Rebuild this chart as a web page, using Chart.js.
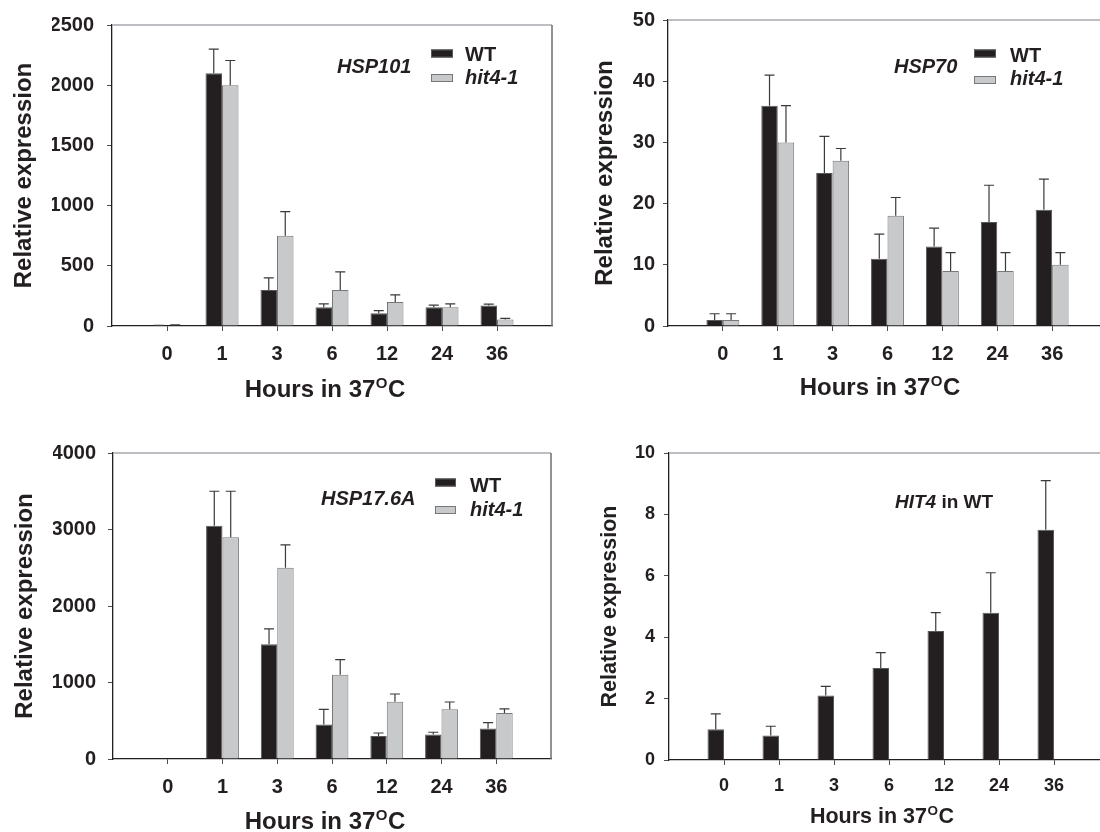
<!DOCTYPE html>
<html>
<head>
<meta charset="utf-8">
<script src="https://cdn.jsdelivr.net/npm/chart.js@4.4.1/dist/chart.umd.min.js"></script>
<style>
  html, body { margin: 0; padding: 0; background: #fff; overflow: hidden; }
  #wrap { position: relative; width: 1100px; height: 832px; overflow: hidden; }
  canvas { position: absolute; left: 0; top: 0; }
</style>
</head>
<body>
<div id="wrap">
  <canvas id="c1" width="1120" height="832"></canvas>
  <canvas id="c2" width="1120" height="832"></canvas>
  <canvas id="c3" width="1120" height="832"></canvas>
  <canvas id="c4" width="1120" height="832"></canvas>
</div>
<script>
// hours at 37 C
const hours = ['0', '1', '3', '6', '12', '24', '36'];

// HSP101
const hsp101WT = [2, 2100, 300, 155, 105, 155, 170];
const hsp101WTsd = [3, 200, 100, 28, 22, 18, 12];
const hsp101Hit = [5, 2000, 750, 300, 200, 155, 55];
const hsp101HitSd = [4, 205, 200, 150, 58, 28, 8];
const ticks101 = [0, 500, 1000, 1500, 2000, 2500];

// HSP70
const hsp70WT = [1, 36, 25, 11, 13, 17, 19];
const hsp70WTsd = [1, 5, 6, 4, 3, 6, 5];
const hsp70Hit = [1, 30, 27, 18, 9, 9, 10];
const hsp70HitSd = [1, 6, 2, 3, 3, 3, 2];
const ticks70 = [0, 10, 20, 30, 40, 50];

// HSP17.6A
const hsp176WT = [2, 3050, 1500, 450, 300, 320, 400];
const hsp176WTsd = [0, 450, 200, 200, 40, 30, 75];
const hsp176Hit = [8, 2900, 2500, 1100, 750, 650, 600];
const hsp176HitSd = [0, 600, 300, 200, 100, 95, 55];
const ticks176 = [0, 1000, 2000, 3000, 4000];

// HIT4 in WT
const hit4WT = [1.0, 0.8, 2.1, 3.0, 4.2, 4.8, 7.5];
const hit4WTsd = [0.5, 0.3, 0.3, 0.5, 0.6, 1.3, 1.6];
const emptySlot = [null, null, null, null, null, null, null];
const ticksHit4 = [0, 2, 4, 6, 8, 10];

const FONT = "'Liberation Sans', Arial, Helvetica, sans-serif";
const INK = '#231f20';
const WT_FILL = '#231f20', WT_EDGE = '#58585a';
const HIT_FILL = '#c8c9cb', HIT_EDGE = '#77787b';

const decor = {
  id: 'decor',
  afterDatasetsDraw(chart) {
    const ctx = chart.ctx, y = chart.scales.y;
    ctx.save();
    ctx.strokeStyle = '#3a3a3c';
    ctx.lineWidth = 1.2;
    chart.data.datasets.forEach((ds, di) => {
      if (!ds.sd) return;
      chart.getDatasetMeta(di).data.forEach((bar, i) => {
        const v = ds.data[i].y;
        if (v == null || !ds.sd[i]) return;
        const top = y.getPixelForValue(v + ds.sd[i]);
        ctx.beginPath();
        ctx.moveTo(bar.x, bar.y);
        ctx.lineTo(bar.x, top);
        ctx.moveTo(bar.x - 5, top);
        ctx.lineTo(bar.x + 5, top);
        ctx.stroke();
      });
    });
    ctx.restore();
  },
  afterDraw(chart, args, o) {
    const ctx = chart.ctx, a = chart.chartArea;
    ctx.save();
    // frame: grey top, optional right side
    ctx.lineWidth = 1.5;
    ctx.strokeStyle = '#a7a9ac';
    ctx.beginPath();
    ctx.moveTo(a.left, a.top);
    ctx.lineTo(a.right, a.top);
    ctx.stroke();
    if (o.rightBorder) {
      ctx.strokeStyle = '#6d6e71';
      ctx.beginPath();
      ctx.moveTo(a.right, a.top);
      ctx.lineTo(a.right, a.bottom);
      ctx.stroke();
    }
    ctx.fillStyle = INK;
    // y title
    ctx.save();
    ctx.translate(o.yTitleX, (a.top + a.bottom) / 2);
    ctx.rotate(-Math.PI / 2);
    ctx.font = 'bold ' + o.titleSize + 'px ' + FONT;
    ctx.textAlign = 'center';
    ctx.textBaseline = 'middle';
    ctx.fillText('Relative expression', 0, 0);
    ctx.restore();
    // x title with superscript O
    const big = 'bold ' + o.titleSize + 'px ' + FONT;
    const sup = 'bold ' + o.supSize + 'px ' + FONT;
    ctx.textBaseline = 'alphabetic';
    ctx.textAlign = 'left';
    ctx.font = big;
    const w1 = ctx.measureText('Hours in 37').width, w3 = ctx.measureText('C').width;
    ctx.font = sup;
    const w2 = ctx.measureText('O').width + 1;
    let x = o.xTitleX - (w1 + w2 + w3) / 2;
    ctx.font = big;
    ctx.fillText('Hours in 37', x, o.xTitleY);
    ctx.font = sup;
    ctx.fillText('O', x + w1 + 0.5, o.xTitleY - o.supRise);
    ctx.font = big;
    ctx.fillText('C', x + w1 + w2, o.xTitleY);
    // gene label
    let gx = o.gene.x;
    o.gene.parts.forEach(p => {
      ctx.font = (p[1] ? 'italic ' : '') + 'bold ' + o.gene.size + 'px ' + FONT;
      ctx.fillText(p[0], gx, o.gene.y);
      gx += ctx.measureText(p[0]).width;
    });
    // legend
    if (o.legend) {
      const L = o.legend;
      chart.data.datasets.forEach((ds, i) => {
        const r = L.rows[i];
        ctx.fillStyle = ds.backgroundColor;
        ctx.fillRect(L.x, r[0], L.w, 8);
        ctx.strokeStyle = ds.borderColor;
        ctx.lineWidth = 1;
        ctx.strokeRect(L.x + 0.5, r[0] + 0.5, L.w - 1, 7);
        ctx.fillStyle = INK;
        ctx.font = (ds.italic ? 'italic ' : '') + 'bold 20px ' + FONT;
        ctx.fillText(ds.label, L.textX, r[1]);
      });
    }
    ctx.restore();
  }
};

function series(label, values, sd, fill, edge, italic) {
  return {
    label: label,
    data: values.map((v, i) => ({ x: i, y: v })),
    sd: sd,
    italic: italic,
    backgroundColor: fill,
    borderColor: edge,
    borderWidth: 1,
    categoryPercentage: 0.6,
    barPercentage: 1.0
  };
}

function panel(id, area, o) {
  const cw = 1120, chh = 832, yW = 60, xH = 40;
  const tickFont = { family: FONT, weight: 'bold', size: o.tickSize };
  const grid = { display: true, drawOnChartArea: false, drawTicks: true, tickLength: 5, color: '#4d4d4f', offset: false };
  new Chart(document.getElementById(id), {
    type: 'bar',
    data: { datasets: o.datasets },
    options: {
      responsive: false,
      animation: false,
      events: [],
      layout: { padding: { left: area.l - yW, top: area.t, right: cw - area.r, bottom: chh - area.b - xH } },
      scales: {
        x: {
          type: 'linear', min: -1, max: 7, offset: false,
          afterBuildTicks: s => { s.ticks = hours.map((h, i) => ({ value: i })); },
          afterFit: s => { s.height = xH; },
          ticks: { callback: v => hours[v], font: tickFont, color: INK, padding: o.xPad, maxRotation: 0, autoSkip: false },
          grid: grid,
          border: { display: true, color: INK, width: 1.3 }
        },
        y: {
          min: 0, max: o.yTicks[o.yTicks.length - 1],
          afterBuildTicks: s => { s.ticks = o.yTicks.map(v => ({ value: v })); },
          afterFit: s => { s.width = yW; },
          ticks: { callback: v => String(v), font: tickFont, color: INK, padding: o.yPad },
          grid: grid,
          border: { display: true, color: INK, width: 1.3 }
        }
      },
      plugins: {
        legend: { display: false },
        tooltip: { enabled: false },
        decor: o.decor
      }
    },
    plugins: [decor]
  });
}

panel('c1', { l: 112, r: 552, t: 18, b: 326 }, {
  datasets: [
    series('WT', hsp101WT, hsp101WTsd, WT_FILL, WT_EDGE, false),
    series('hit4-1', hsp101Hit, hsp101HitSd, HIT_FILL, HIT_EDGE, true)
  ],
  yTicks: ticks101, tickSize: 20, xPad: 11, yPad: 13,
  decor: {
    rightBorder: true, titleSize: 24, supSize: 15, supRise: 9,
    yTitleX: 24, xTitleX: 325, xTitleY: 397,
    gene: { parts: [['HSP101', true]], x: 337, y: 73, size: 20 },
    legend: { x: 431, w: 22, textX: 465, rows: [[49.5, 61], [74, 83.5]] }
  }
});

panel('c2', { l: 668, r: 1107, t: 19, b: 326 }, {
  datasets: [
    series('WT', hsp70WT, hsp70WTsd, WT_FILL, WT_EDGE, false),
    series('hit4-1', hsp70Hit, hsp70HitSd, HIT_FILL, HIT_EDGE, true)
  ],
  yTicks: ticks70, tickSize: 20, xPad: 11, yPad: 8,
  decor: {
    rightBorder: false, titleSize: 24, supSize: 15, supRise: 9,
    yTitleX: 605, xTitleX: 880, xTitleY: 395,
    gene: { parts: [['HSP70', true]], x: 894, y: 73, size: 20 },
    legend: { x: 974, w: 22, textX: 1010, rows: [[49.5, 62], [76, 85]] }
  }
});

panel('c3', { l: 113, r: 551, t: 453, b: 759 }, {
  datasets: [
    series('WT', hsp176WT, hsp176WTsd, WT_FILL, WT_EDGE, false),
    series('hit4-1', hsp176Hit, hsp176HitSd, HIT_FILL, HIT_EDGE, true)
  ],
  yTicks: ticks176, tickSize: 20, xPad: 11, yPad: 12,
  decor: {
    rightBorder: true, titleSize: 24, supSize: 15, supRise: 9,
    yTitleX: 25.5, xTitleX: 325, xTitleY: 829,
    gene: { parts: [['HSP17.6A', true]], x: 321, y: 505, size: 20 },
    legend: { x: 435, w: 21, textX: 470, rows: [[478.5, 492], [506, 515.5]] }
  }
});

panel('c4', { l: 669, r: 1109, t: 453, b: 760 }, {
  datasets: [
    series('WT', hit4WT, hit4WTsd, WT_FILL, WT_EDGE, false),
    series('', emptySlot, null, HIT_FILL, HIT_EDGE, true)
  ],
  yTicks: ticksHit4, tickSize: 18, xPad: 10, yPad: 9,
  decor: {
    rightBorder: false, titleSize: 21.5, supSize: 13.5, supRise: 8,
    yTitleX: 610, xTitleX: 882, xTitleY: 823,
    gene: { parts: [['HIT4', true], [' in WT', false]], x: 895, y: 508, size: 19 },
    legend: null
  }
});
</script>
</body>
</html>
